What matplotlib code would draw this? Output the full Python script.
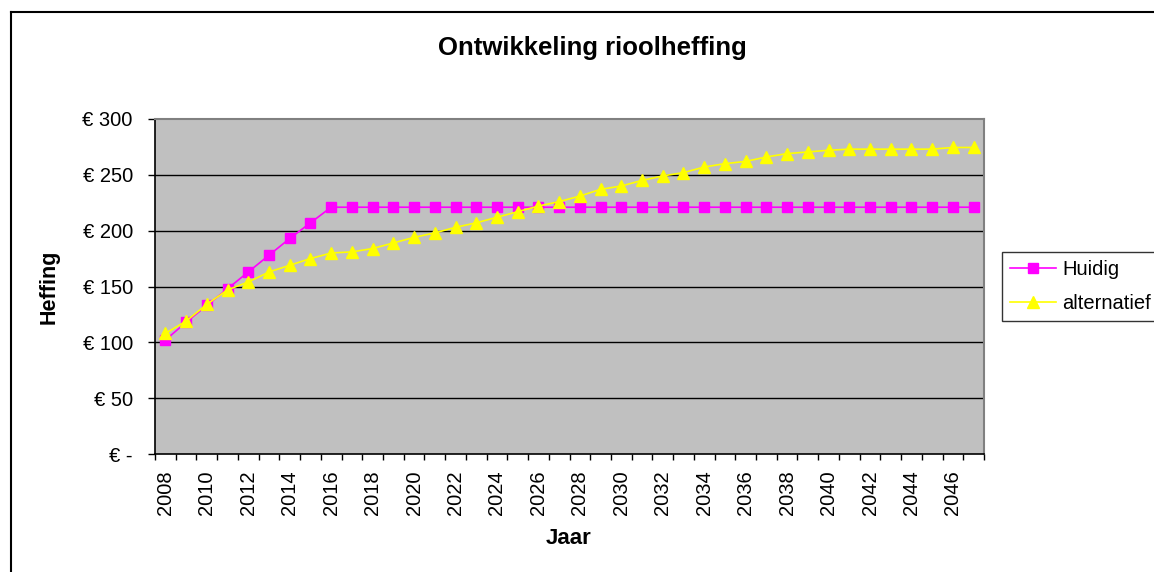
import matplotlib
matplotlib.use("Agg")
import matplotlib.pyplot as plt
from matplotlib.lines import Line2D

plt.rcParams['font.family'] = ['Liberation Sans', 'DejaVu Sans']

years = [2008, 2009, 2010, 2011, 2012, 2013, 2014, 2015, 2016, 2017,
         2018, 2019, 2020, 2021, 2022, 2023, 2024, 2025, 2026, 2027,
         2028, 2029, 2030, 2031, 2032, 2033, 2034, 2035, 2036, 2037,
         2038, 2039, 2040, 2041, 2042, 2043, 2044, 2045, 2046, 2047]
huidig = [102, 118, 133, 148, 163, 178, 193, 207, 221, 221,
          221, 221, 221, 221, 221, 221, 221, 221, 221, 221,
          221, 221, 221, 221, 221, 221, 221, 221, 221, 221,
          221, 221, 221, 221, 221, 221, 221, 221, 221, 221]
alternatief = [108, 119, 134, 147, 154, 163, 169, 175, 180, 181,
               184, 189, 194, 198, 203, 207, 212, 217, 222, 226,
               231, 237, 240, 245, 249, 252, 257, 260, 262, 266,
               269, 270.5, 272, 273, 273, 273, 273, 273, 274.5, 274.5]
y_ticks = [0, 50, 100, 150, 200, 250, 300]
y_tick_labels = ["€ -", "€ 50", "€ 100", "€ 150", "€ 200", "€ 250", "€ 300"]
series_names = ["Huidig", "alternatief"]
title = "Ontwikkeling rioolheffing"
x_label = "Jaar"
y_label = "Heffing"

W, H = 1154, 572
fig = plt.figure(figsize=(W / 100, H / 100), dpi=100)

L, R, T, B = 155, 984, 119, 454
ax = fig.add_axes([L / W, 1 - B / H, (R - L) / W, (B - T) / H])
ax.set_facecolor('#C0C0C0')

x = list(range(len(years)))
ax.plot(x, huidig, color='#FF00FF', lw=1.2, marker='s', ms=7.5,
        mec='#FF00FF', mfc='#FF00FF', zorder=3, clip_on=False)
ax.plot(x, alternatief, color='#FFFF00', lw=1.2, marker='^', ms=8.5,
        mec='#FFFF00', mfc='#FFFF00', zorder=4, clip_on=False)

ax.set_xlim(-0.5, len(years) - 0.5)
ax.set_ylim(0, 300)

# gridlines
ax.set_yticks(y_ticks)
ax.set_yticklabels(y_tick_labels, fontsize=14.5)
for v in y_ticks[1:-1]:
    ax.axhline(v, color='black', lw=1.0, zorder=1)
ax.tick_params(axis='y', direction='out', length=5, width=1, pad=11, colors='black')

# x ticks: boundaries as major (no labels), labels every 2 years as minor
ax.set_xticks([i - 0.5 for i in range(len(years) + 1)])
ax.set_xticklabels([])
ax.set_xticks(x[::2], minor=True)
ax.set_xticklabels([str(yv) for yv in years[::2]], minor=True, rotation=90,
                   fontsize=14.5, va='top')
ax.tick_params(axis='x', which='major', direction='out', length=4.5, width=1)
ax.tick_params(axis='x', which='minor', length=0, pad=12)

for s in ['top', 'right']:
    ax.spines[s].set_color('#808080')
    ax.spines[s].set_linewidth(1.5)
for s in ['left', 'bottom']:
    ax.spines[s].set_color('black')
    ax.spines[s].set_linewidth(1.2)

# titles
fig.text(592 / W, 1 - 48 / H, title, ha='center', va='center',
         fontsize=18.5, fontweight='bold')
fig.text(569 / W, 1 - 538 / H, x_label, ha='center', va='center',
         fontsize=16, fontweight='bold')
fig.text(49 / W, 1 - 287 / H, y_label, ha='center', va='center',
         fontsize=15.5, fontweight='bold', rotation=90)

# legend
handles = [Line2D([], [], color='#FF00FF', lw=1.2, marker='s', ms=7.5),
           Line2D([], [], color='#FFFF00', lw=1.2, marker='^', ms=8.5)]
leg = fig.legend(handles, series_names, loc='upper left',
                 bbox_to_anchor=(1002 / W, 1 - 252 / H), bbox_transform=fig.transFigure,
                 fontsize=14.5, frameon=True, fancybox=False, borderpad=0.4,
                 handlelength=2.3, handletextpad=0.3, labelspacing=0.75,
                 borderaxespad=0)
leg.get_frame().set_edgecolor('black')
leg.get_frame().set_linewidth(1.0)

# outer chart border
fig.add_artist(Line2D([11 / W, 11 / W], [1 - 12 / H, -0.1], color='black', lw=1.5,
                      transform=fig.transFigure))
fig.add_artist(Line2D([11 / W, 1.1], [1 - 12 / H, 1 - 12 / H], color='black', lw=1.5,
                      transform=fig.transFigure))

fig.savefig('out.png', dpi=100)
